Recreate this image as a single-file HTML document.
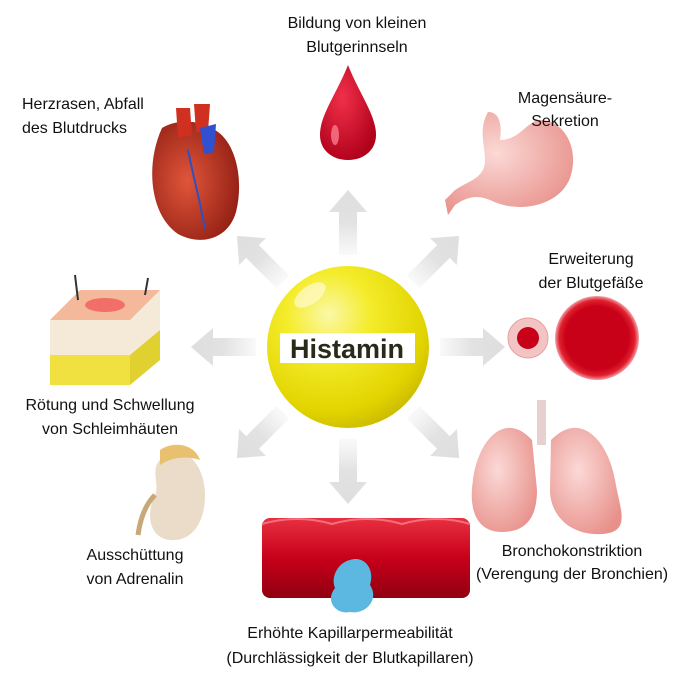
<!DOCTYPE html>
<html><head><meta charset="utf-8"><style>
body{margin:0;background:#fff}
svg{display:block}
text{font-family:"Liberation Sans",sans-serif;font-size:16px;fill:#111}
</style></head><body>
<svg width="696" height="696" viewBox="0 0 696 696">
<defs>
<linearGradient id="ag" x1="0" y1="1" x2="0" y2="0">
<stop offset="0" stop-color="#e4e4e4" stop-opacity="0.2"/><stop offset="0.5" stop-color="#e2e2e2"/><stop offset="1" stop-color="#dedede"/></linearGradient>
<radialGradient id="sg" cx="0.38" cy="0.3" r="0.75">
<stop offset="0" stop-color="#fbf8a8"/><stop offset="0.35" stop-color="#f4ec2a"/><stop offset="0.8" stop-color="#e2d400"/><stop offset="1" stop-color="#c9b900"/></radialGradient>
<radialGradient id="rd" cx="0.4" cy="0.35" r="0.7"><stop offset="0" stop-color="#f0304a"/><stop offset="1" stop-color="#b0001a"/></radialGradient>
<radialGradient id="ht" cx="0.4" cy="0.5" r="0.7"><stop offset="0" stop-color="#e0553a"/><stop offset="1" stop-color="#8a1a10"/></radialGradient>
<radialGradient id="pk" cx="0.4" cy="0.4" r="0.7"><stop offset="0" stop-color="#fbd9d6"/><stop offset="1" stop-color="#e8908a"/></radialGradient>
<radialGradient id="vs" cx="0.5" cy="0.5" r="0.5"><stop offset="0.75" stop-color="#c80018"/><stop offset="0.9" stop-color="#e0202e"/><stop offset="1" stop-color="#f3a0a8"/></radialGradient>
<linearGradient id="tb" x1="0" y1="0" x2="0" y2="1"><stop offset="0" stop-color="#e83040"/><stop offset="0.5" stop-color="#c8001a"/><stop offset="1" stop-color="#900010"/></linearGradient>
</defs>
<g transform="translate(348,347)">
<g id="ar"><polygon points="-9,-92 9,-92 9,-135 19,-135 0,-157 -19,-135 -9,-135" fill="url(#ag)"/></g>
<use href="#ar" transform="rotate(45)"/><use href="#ar" transform="rotate(90)"/><use href="#ar" transform="rotate(135)"/>
<use href="#ar" transform="rotate(180)"/><use href="#ar" transform="rotate(225)"/><use href="#ar" transform="rotate(270)"/><use href="#ar" transform="rotate(315)"/>
<circle r="81" fill="url(#sg)"/>
<ellipse cx="-38" cy="-52" rx="18" ry="9" fill="#fffbd0" opacity="0.7" transform="rotate(-35 -38 -52)"/>
</g>
<rect x="280" y="333" width="135" height="30" fill="#fff"/>
<text x="347" y="358" text-anchor="middle" style="font-size:27px;font-weight:bold;fill:#2a2a18">Histamin</text>

<path d="M348,65 C360,95 376,115 376,135 C376,150 364,160 348,160 C332,160 320,150 320,135 C320,115 336,95 348,65Z" fill="url(#rd)"/>
<ellipse cx="335" cy="135" rx="4" ry="10" fill="#ff8a98" opacity="0.7"/>
<text x="357" y="28" text-anchor="middle">Bildung von kleinen</text>
<text x="357" y="52" text-anchor="middle">Blutgerinnseln</text>

<path d="M162,128 C145,165 150,215 178,234 C200,246 228,240 236,212 C244,180 236,145 218,132 C202,120 178,118 162,128Z" fill="url(#ht)"/>
<path d="M176,108 L190,108 L192,135 L178,138Z M194,104 L210,104 L208,132 L196,132Z" fill="#d03020"/>
<path d="M200,128 L216,124 L214,152 L204,154Z" fill="#3050d0"/>
<path d="M188,150 C194,180 200,200 205,230" stroke="#3050c0" stroke-width="2" fill="none"/>
<text x="22" y="109">Herzrasen, Abfall</text>
<text x="22" y="133">des Blutdrucks</text>

<path d="M488,112 C500,112 502,125 500,140 C520,140 528,120 540,120 C565,120 580,150 570,178 C560,205 520,215 490,200 C478,195 468,196 455,205 L448,215 L445,200 L455,190 C470,180 485,178 485,160 C485,145 478,130 488,112Z" fill="url(#pk)"/>
<text x="565" y="103" text-anchor="middle">Magensäure-</text>
<text x="565" y="126" text-anchor="middle">Sekretion</text>

<circle cx="528" cy="338" r="20" fill="#f2c4c4" stroke="#e8a0a0" stroke-width="1"/>
<circle cx="528" cy="338" r="11" fill="#c80018"/>
<circle cx="597" cy="338" r="42" fill="url(#vs)"/>
<text x="591" y="264" text-anchor="middle">Erweiterung</text>
<text x="591" y="288" text-anchor="middle">der Blutgefäße</text>

<rect x="537" y="400" width="9" height="45" fill="#e6d0d0"/>
<path d="M532,440 C505,410 478,440 473,480 C468,512 478,532 502,532 C528,532 537,515 537,490Z" fill="url(#pk)"/>
<path d="M551,440 C580,410 608,440 615,480 C620,510 632,532 602,534 C570,536 550,515 550,490Z" fill="url(#pk)"/>
<text x="572" y="556" text-anchor="middle">Bronchokonstriktion</text>
<text x="572" y="579" text-anchor="middle">(Verengung der Bronchien)</text>

<rect x="262" y="518" width="208" height="80" rx="8" fill="url(#tb)"/>
<path d="M262,524 Q297,514 332,524 Q367,514 402,524 Q437,514 470,524" stroke="#f07080" stroke-width="2" fill="none"/>
<path d="M350,560 C365,555 375,570 370,585 C380,600 365,615 350,612 C335,615 325,600 335,588 C330,575 340,562 350,560Z" fill="#5cb8e0"/>
<text x="350" y="638" text-anchor="middle">Erhöhte Kapillarpermeabilität</text>
<text x="350" y="663" text-anchor="middle">(Durchlässigkeit der Blutkapillaren)</text>

<path d="M160,460 C185,440 205,465 205,495 C205,525 190,542 170,540 C150,538 145,515 155,495 C160,485 150,470 160,460Z" fill="#eadcc8"/>
<path d="M160,450 C175,440 195,445 200,460 C185,455 170,458 160,465Z" fill="#e8c070"/>
<path d="M155,495 C145,505 140,520 138,535" stroke="#c8a878" stroke-width="5" fill="none"/>
<text x="135" y="560" text-anchor="middle">Ausschüttung</text>
<text x="135" y="584" text-anchor="middle">von Adrenalin</text>

<path d="M50,320 L80,290 L160,290 L160,360 L130,385 L50,385Z" fill="#f5ead8"/>
<path d="M50,320 L80,290 L160,290 L130,320Z" fill="#f4b89a"/>
<ellipse cx="105" cy="305" rx="20" ry="7" fill="#f05050" opacity="0.7"/>
<rect x="50" y="355" width="80" height="30" fill="#f0e040"/>
<path d="M130,355 L160,330 L160,360 L130,385Z" fill="#e0d030"/>
<path d="M78,300 L75,275 M145,295 L148,278" stroke="#333" stroke-width="2"/>
<text x="110" y="410" text-anchor="middle">Rötung und Schwellung</text>
<text x="110" y="434" text-anchor="middle">von Schleimhäuten</text>
</svg>
</body></html>
